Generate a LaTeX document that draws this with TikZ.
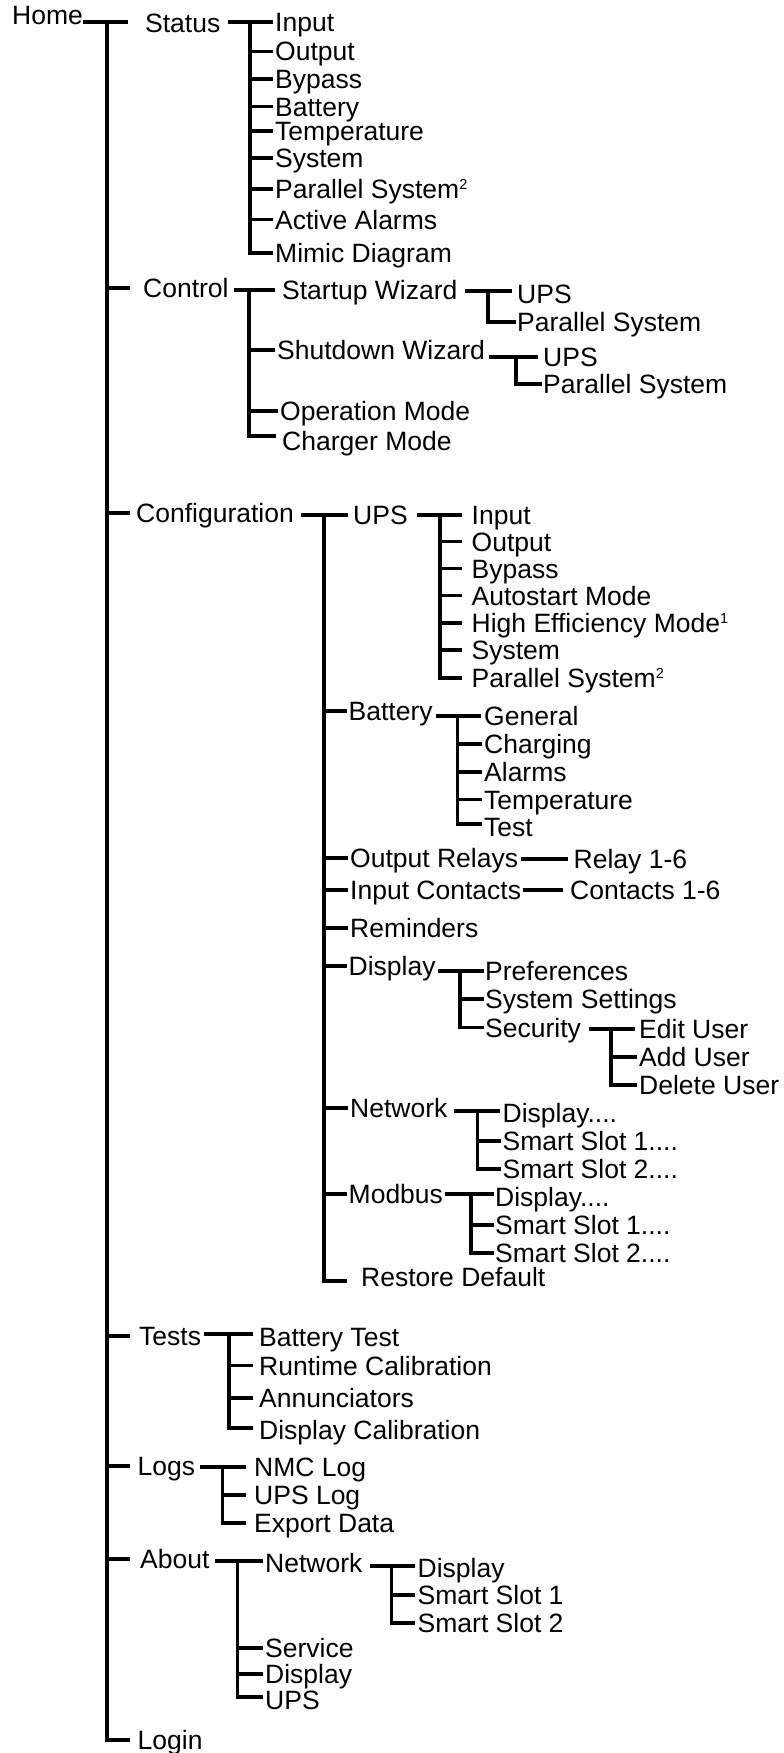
\documentclass[tikz,border=0pt]{standalone}
\usepackage{fontspec}
\setmainfont{Liberation Sans}
\newcommand{\myss}[1]{\raisebox{8.7pt}{\fontsize{14.5}{14.5}\selectfont #1}}
\begin{document}
\begin{tikzpicture}[x=1pt,y=-1pt,
  lbl/.style={anchor=west, inner sep=0pt, text height=19pt, text depth=0pt, font=\fontsize{26.5}{30}\selectfont},
  ln/.style={line width=3.2pt, draw=black}]
\useasboundingbox (0,0) rectangle (784,1753);

% ---------- level 0 / 1 ----------
\node[lbl] (home) at (12,15.5) {Home};
\node[lbl] (st) at (145,23.5) {Status};
\node[lbl] (ctl) at (143,288) {Control};
\node[lbl] (cfg) at (136,513) {Configuration};
\node[lbl] (tests) at (139,1336) {Tests};
\node[lbl] (logs) at (137.5,1466) {Logs};
\node[lbl] (about) at (140,1559) {About};
\node[lbl] (login) at (137.5,1740) {Login};

\coordinate (homeend) at (128,22);
\coordinate (t0) at (107,22);
\coordinate (tk) at (130,0);
\draw[ln] (home.east |- homeend) -- (homeend);
\draw[ln] (t0) -- (t0 |- login.west) -- (tk |- login.west);
\foreach \n in {ctl,cfg,tests,logs,about}
  \draw[ln] (t0 |- \n.west) -- (tk |- \n.west);

% ---------- Status ----------
\node[lbl] (st1) at (275,22) {Input};
\node[lbl] (st2) at (275,51.5) {Output};
\node[lbl] (st3) at (275,79) {Bypass};
\node[lbl] (st4) at (275,106.5) {Battery};
\node[lbl] (st5) at (275,131) {Temperature};
\node[lbl] (st6) at (275,158) {System};
\node[lbl] (st7) at (275,189) {Parallel System\myss{2}};
\node[lbl] (st8) at (275,219.5) {Active Alarms};
\node[lbl] (st9) at (275,253) {Mimic Diagram};
\coordinate (tst) at (250,0);
\draw[ln, shorten <=7pt, shorten >=2pt] (st.east |- st1.west) -- (st1.west);
\draw[ln, shorten >=2pt] (tst |- st1.west) -- (tst |- st9.west) -- (st9.west);
\foreach \n in {st2,st3,st4,st5,st6,st7,st8}
  \draw[ln, shorten >=2pt] (tst |- \n.west) -- (\n.west);

% ---------- Control ----------
\node[lbl] (c1) at (282,290) {Startup Wizard};
\node[lbl] (c2) at (277,350) {Shutdown Wizard};
\node[lbl] (c3) at (280,411) {Operation Mode};
\node[lbl] (c4) at (282,441) {Charger Mode};
\coordinate (c4l) at ([yshift=5pt]c4.west);
\coordinate (tc) at (249,0);
\draw[ln, shorten <=5pt, shorten >=7pt] (ctl.east |- c1.west) -- (c1.west);
\draw[ln, shorten >=6pt] (tc |- c1.west) -- (tc |- c4l) -- (c4l);
\draw[ln, shorten >=2pt] (tc |- c2.west) -- (c2.west);
\draw[ln, shorten >=2pt] (tc |- c3.west) -- (c3.west);

\node[lbl] (c11) at (517,294) {UPS};
\node[lbl] (c12) at (517,322) {Parallel System};
\coordinate (c11l) at ([yshift=3pt]c11.west);
\coordinate (tc1) at (488,0);
\draw[ln, shorten <=7pt, shorten >=5pt] (c1.east |- c11l) -- (c11l);
\draw[ln, shorten >=1pt] (tc1 |- c11l) -- (tc1 |- c12.west) -- (c12.west);

\node[lbl] (c21) at (543,357) {UPS};
\node[lbl] (c22) at (543,384) {Parallel System};
\coordinate (tc2) at (516,0);
\draw[ln, shorten <=4pt, shorten >=5pt] (c2.east |- c21.west) -- (c21.west);
\draw[ln, shorten >=1pt] (tc2 |- c21.west) -- (tc2 |- c22.west) -- (c22.west);

% ---------- Configuration ----------
\node[lbl] (u) at (353,515) {UPS};
\node[lbl] (b) at (348.5,711) {Battery};
\node[lbl] (orl) at (350,858) {Output Relays};
\node[lbl] (ic) at (350,890) {Input Contacts};
\node[lbl] (rem) at (350,928) {Reminders};
\node[lbl] (dsp) at (348.5,966) {Display};
\node[lbl] (net) at (350,1108) {Network};
\node[lbl] (mod) at (348.5,1194) {Modbus};
\node[lbl] (rd) at (361,1277) {Restore Default};
\coordinate (rdl) at ([yshift=-4pt]rd.west);
\coordinate (tcf) at (324,0);
\draw[ln, shorten <=6.5pt, shorten >=5pt] (cfg.east |- u.west) -- (u.west);
\draw[ln, shorten >=14pt] (tcf |- u.west) -- (tcf |- rdl) -- (rdl);
\foreach \n in {b,orl,ic,rem,dsp,net,mod}
  \draw[ln, shorten >=2pt] (tcf |- \n.west) -- (\n.west);

% UPS
\node[lbl] (u1) at (471.5,515) {Input};
\node[lbl] (u2) at (471.5,541.5) {Output};
\node[lbl] (u3) at (471.5,568.5) {Bypass};
\node[lbl] (u4) at (471.5,595.5) {Autostart Mode};
\node[lbl] (u5) at (471.5,623) {High Efficiency Mode\myss{1}};
\node[lbl] (u6) at (471.5,650) {System};
\node[lbl] (u7) at (471.5,678) {Parallel System\myss{2}};
\coordinate (tu) at (440,0);
\draw[ln, shorten <=9pt, shorten >=9.5pt] (u.east |- u1.west) -- (u1.west);
\draw[ln, shorten >=9.5pt] (tu |- u1.west) -- (tu |- u7.west) -- (u7.west);
\foreach \n in {u2,u3,u4,u5,u6}
  \draw[ln, shorten >=9.5pt] (tu |- \n.west) -- (\n.west);

% Battery
\node[lbl] (b1) at (484,716) {General};
\node[lbl] (b2) at (484,744) {Charging};
\node[lbl] (b3) at (484,772) {Alarms};
\node[lbl] (b4) at (484,799.5) {Temperature};
\node[lbl] (b5) at (484,827) {Test};
\coordinate (b5l) at ([yshift=3pt]b5.west);
\coordinate (tb) at (457.5,0);
\draw[ln, shorten <=3pt, shorten >=3pt] (b.east |- b1.west) -- (b1.west);
\draw[ln, shorten >=2pt] (tb |- b1.west) -- (tb |- b5l) -- (b5l);
\foreach \n in {b2,b3,b4}
  \draw[ln, shorten >=2pt] (tb |- \n.west) -- (\n.west);

% Output Relays / Input Contacts
\node[lbl] (r1) at (573.5,859) {Relay 1-6};
\draw[ln, shorten <=3pt, shorten >=5.5pt] (orl.east |- r1.west) -- (r1.west);
\node[lbl] (ic1) at (570,890) {Contacts 1-6};
\draw[ln, shorten <=2pt, shorten >=7pt] (ic.east |- ic1.west) -- (ic1.west);

% Display
\node[lbl] (d1) at (485,971) {Preferences};
\node[lbl] (d2) at (485,999) {System Settings};
\node[lbl] (d3) at (485,1027.5) {Security};
\coordinate (td) at (460,0);
\draw[ln, shorten <=2pt, shorten >=1pt] (dsp.east |- d1.west) -- (d1.west);
\draw[ln, shorten >=1pt] (td |- d1.west) -- (td |- d3.west) -- (d3.west);
\draw[ln, shorten >=1pt] (td |- d2.west) -- (d2.west);

\node[lbl] (e1) at (639,1029) {Edit User};
\node[lbl] (e2) at (639,1057) {Add User};
\node[lbl] (e3) at (639,1085) {Delete User};
\coordinate (tsec) at (611,0);
\draw[ln, shorten <=7.5pt, shorten >=4pt] (d3.east |- e1.west) -- (e1.west);
\draw[ln, shorten >=2pt] (tsec |- e1.west) -- (tsec |- e3.west) -- (e3.west);
\draw[ln, shorten >=2pt] (tsec |- e2.west) -- (e2.west);

% Network
\node[lbl] (n1) at (502.5,1113) {Display....};
\node[lbl] (n2) at (502.5,1141) {Smart Slot 1....};
\node[lbl] (n3) at (502.5,1169) {Smart Slot 2....};
\coordinate (n1l) at ([yshift=2pt]n1.west);
\coordinate (tn) at (477.5,0);
\draw[ln, shorten <=6.5pt, shorten >=2.5pt] (net.east |- n1l) -- (n1l);
\draw[ln, shorten >=2pt] (tn |- n1l) -- (tn |- n3.west) -- (n3.west);
\draw[ln, shorten >=2pt] (tn |- n2.west) -- (n2.west);

% Modbus
\node[lbl] (m1) at (495,1197) {Display....};
\node[lbl] (m2) at (495,1225) {Smart Slot 1....};
\node[lbl] (m3) at (495,1253) {Smart Slot 2....};
\coordinate (m1l) at ([yshift=3pt]m1.west);
\coordinate (tm) at (471,0);
\draw[ln, shorten <=2pt, shorten >=1pt] (mod.east |- m1l) -- (m1l);
\draw[ln, shorten >=1pt] (tm |- m1l) -- (tm |- m3.west) -- (m3.west);
\draw[ln, shorten >=1pt] (tm |- m2.west) -- (m2.west);

% ---------- Tests ----------
\node[lbl] (t1) at (259,1337) {Battery Test};
\node[lbl] (t2) at (259,1365.5) {Runtime Calibration};
\node[lbl] (t3) at (259,1398) {Annunciators};
\node[lbl] (t4) at (259,1430) {Display Calibration};
\coordinate (t1l) at ([yshift=3pt]t1.west);
\coordinate (t4l) at ([yshift=2pt]t4.west);
\coordinate (tt) at (229,0);
\draw[ln, shorten <=2.5pt, shorten >=6.5pt] (tests.east |- t1l) -- (t1l);
\draw[ln, shorten >=6.5pt] (tt |- t1l) -- (tt |- t4l) -- (t4l);
\draw[ln, shorten >=6.5pt] (tt |- t2.west) -- (t2.west);
\draw[ln, shorten >=6.5pt] (tt |- t3.west) -- (t3.west);

% ---------- Logs ----------
\node[lbl] (l1) at (254,1467) {NMC Log};
\node[lbl] (l2) at (254,1495) {UPS Log};
\node[lbl] (l3) at (254,1523) {Export Data};
\coordinate (tl) at (222.5,0);
\draw[ln, shorten <=5pt, shorten >=8pt] (logs.east |- l1.west) -- (l1.west);
\draw[ln, shorten >=8pt] (tl |- l1.west) -- (tl |- l3.west) -- (l3.west);
\draw[ln, shorten >=8pt] (tl |- l2.west) -- (l2.west);

% ---------- About ----------
\node[lbl] (a1) at (265,1563) {Network};
\node[lbl] (a2) at (265,1648) {Service};
\node[lbl] (a3) at (265,1674) {Display};
\node[lbl] (a4) at (265,1700) {UPS};
\coordinate (a1l) at ([yshift=2pt]a1.west);
\coordinate (a4l) at ([yshift=3pt]a4.west);
\coordinate (ta) at (237.5,0);
\draw[ln, shorten <=5pt, shorten >=2.5pt] (about.east |- a1l) -- (a1l);
\draw[ln, shorten >=2.5pt] (ta |- a1l) -- (ta |- a4l) -- (a4l);
\draw[ln, shorten >=2.5pt] (ta |- a2.west) -- (a2.west);
\draw[ln, shorten >=2.5pt] (ta |- a3.west) -- (a3.west);

\node[lbl] (an1) at (417.5,1568) {Display};
\node[lbl] (an2) at (417.5,1595) {Smart Slot 1};
\node[lbl] (an3) at (417.5,1623) {Smart Slot 2};
\coordinate (an1l) at ([yshift=2pt]an1.west);
\coordinate (tan) at (391.5,0);
\draw[ln, shorten <=7.5pt, shorten >=2.5pt] (a1.east |- an1l) -- (an1l);
\draw[ln, shorten >=2.5pt] (tan |- an1l) -- (tan |- an3.west) -- (an3.west);
\draw[ln, shorten >=2.5pt] (tan |- an2.west) -- (an2.west);
\end{tikzpicture}
\end{document}
